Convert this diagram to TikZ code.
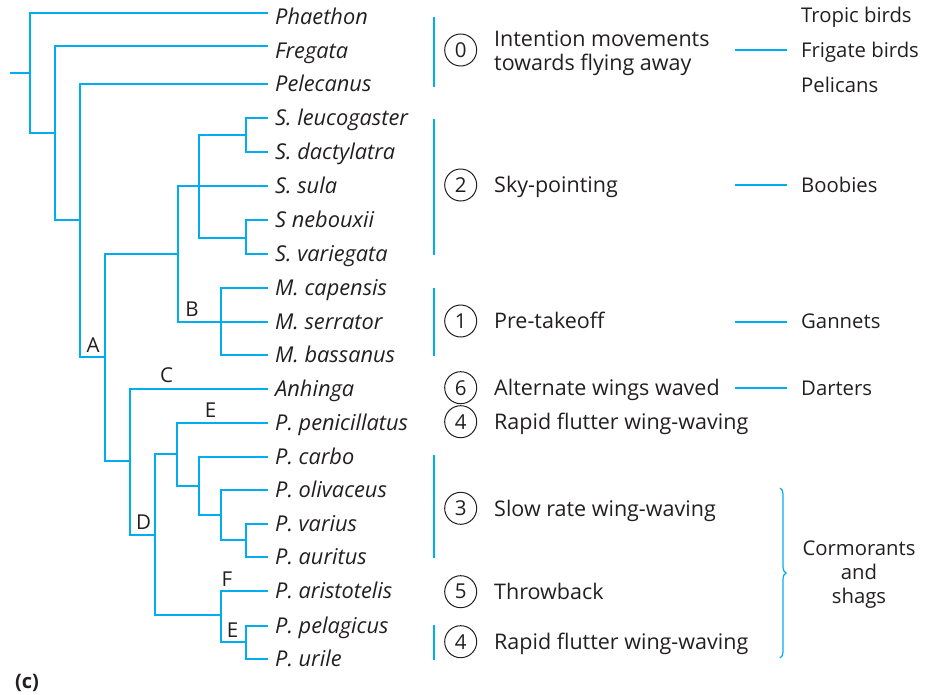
\documentclass[tikz,border=0pt]{standalone}
\usepackage{fontspec}
\setmainfont{Open Sans}
\usetikzlibrary{decorations.pathreplacing}
\definecolor{treeblue}{RGB}{0,174,239}
\definecolor{ink}{RGB}{35,31,32}

\begin{document}
\begin{tikzpicture}[x=1pt,y=-1pt,
  branch/.style={draw=treeblue, line width=2pt},
  bar/.style={draw=treeblue, line width=1.8pt},
  taxon/.style={anchor=base west, inner sep=0pt, text=ink,
    font=\fontsize{21.8}{26}\selectfont\itshape},
  behav/.style={anchor=base west, inner sep=0pt, text=ink, align=left,
    font=\fontsize{21.5}{23.5}\selectfont},
  group/.style={anchor=base west, inner sep=0pt, text=ink,
    font=\fontsize{20.3}{24}\selectfont},
  num/.style={circle, draw=ink, line width=1pt, minimum size=32pt,
    inner sep=0pt, text=ink, font=\fontsize{20.5}{22}\selectfont},
  clade/.style={inner sep=0pt, text=ink, font=\fontsize{20.5}{22}\selectfont}
]
\useasboundingbox (0,0) rectangle (932,695);

% ---------- leaf ends of the tree ----------
\coordinate (L0)  at (268,13.3);
\coordinate (L1)  at (268,45.7);
\coordinate (L2)  at (268,84);
\coordinate (L3)  at (268,118);
\coordinate (L4)  at (268,152);
\coordinate (L5)  at (268,186);
\coordinate (L6)  at (268,220);
\coordinate (L7)  at (268,254);
\coordinate (L8)  at (268,288);
\coordinate (L9)  at (268,321.7);
\coordinate (L10) at (268,355);
\coordinate (L11) at (268,389);
\coordinate (L12) at (268,423);
\coordinate (L13) at (268,457);
\coordinate (L14) at (268,490);
\coordinate (L15) at (268,524);
\coordinate (L16) at (268,557);
\coordinate (L17) at (268,591);
\coordinate (L18) at (268,625.5);
\coordinate (L19) at (268,659.3);

% ---------- internal nodes (vertical x, attachment y) ----------
\coordinate (stub) at (10,73);
\coordinate (root) at (30,73);
\coordinate (n2)   at (55,133);
\coordinate (n3)   at (79.5,220);
\coordinate (A)    at (105,357);
\coordinate (B)    at (178,254.3);
\coordinate (Sul)  at (199,186);
\coordinate (Sul1) at (246,135);
\coordinate (Sul2) at (246,238);
\coordinate (Mor)  at (220.7,321.7);
\coordinate (C)    at (130,460.7);
\coordinate (D)    at (155,535);
\coordinate (E1)   at (177,454);
\coordinate (P1)   at (199,485.7);
\coordinate (P2)   at (220.7,515);
\coordinate (P3)   at (246,540);
\coordinate (F)    at (220.7,615);
\coordinate (E2)   at (246,642.3);

% ---------- branches ----------
\draw[branch] (stub) -- (root);
\draw[branch] (L0) -| (root) |- (n2);
\draw[branch] (L1) -| (n2) |- (n3);
\draw[branch] (L2) -| (n3) |- (A);
\draw[branch] (B) -| (A) |- (C);
\draw[branch] (Sul) -| (B) |- (Mor);
\draw[branch] (Sul1) -| (Sul) |- (Sul2);
\draw[branch] (Sul) -- (L5);
\draw[branch] (L3) -| (Sul1) |- (L4);
\draw[branch] (L6) -| (Sul2) |- (L7);
\draw[branch] (L8) -| (Mor) |- (L10);
\draw[branch] (Mor) -- (L9);
\draw[branch] (L11) -| (C) |- (D);
\draw[branch] (E1) -| (D) |- (F);
\draw[branch] (L12) -| (E1) |- (P1);
\draw[branch] (L13) -| (P1) |- (P2);
\draw[branch] (L14) -| (P2) |- (P3);
\draw[branch] (L15) -| (P3) |- (L16);
\draw[branch] (L17) -| (F) |- (E2);
\draw[branch] (L18) -| (E2) |- (L19);

% ---------- clade letters ----------
\node[clade] (labA)  at (93,345)    {A};
\node[clade] (labB)  at (192,309)   {B};
\node[clade] (labC)  at (166.5,375) {C};
\node[clade] (labD)  at (143.5,522.5) {D};
\node[clade] (labE1) at (210.5,410) {E};
\node[clade] (labF)  at (227,579)   {F};
\node[clade] (labE2) at (232.5,630.5) {E};

% ---------- taxon names (baselines) ----------
\node[taxon] (t0)  at (275,24.6)  {Phaethon};
\node[taxon] (t1)  at (275,58.6)  {Fregata};
\node[taxon] (t2)  at (275,91.6)  {Pelecanus};
\node[taxon] (t3)  at (275,125.6) {S. leucogaster};
\node[taxon] (t4)  at (275,159.8) {S. dactylatra};
\node[taxon] (t5)  at (275,193.3) {S. sula};
\node[taxon] (t6)  at (275,227.5) {S nebouxii};
\node[taxon] (t7)  at (275,261.5) {S. variegata};
\node[taxon] (t8)  at (275,295.5) {M. capensis};
\node[taxon] (t9)  at (275,329.3) {M. serrator};
\node[taxon] (t10) at (275,362.8) {M. bassanus};
\node[taxon] (t11) at (275,396.5) {Anhinga};
\node[taxon] (t12) at (275,430.5) {P. penicillatus};
\node[taxon] (t13) at (275,464.5) {P. carbo};
\node[taxon] (t14) at (275,497.8) {P. olivaceus};
\node[taxon] (t15) at (275,531.8) {P. varius};
\node[taxon] (t16) at (275,564.5) {P. auritus};
\node[taxon] (t17) at (275,598.5) {P. aristotelis};
\node[taxon] (t18) at (275,633)   {P. pelagicus};
\node[taxon] (t19) at (275,666.8) {P. urile};

% ---------- bars grouping taxa by display ----------
\coordinate (b0t) at (434.3,16.7);  \coordinate (b0b) at (434.3,86.7);
\coordinate (b2t) at (434.3,119);   \coordinate (b2b) at (434.3,255);
\coordinate (b1t) at (434.3,288.3); \coordinate (b1b) at (434.3,356);
\coordinate (b3t) at (434.3,455);   \coordinate (b3b) at (434.3,558.3);
\coordinate (b4t) at (434.3,625);   \coordinate (b4b) at (434.3,660);
\draw[bar] (b0t) -- (b0b);
\draw[bar] (b2t) -- (b2b);
\draw[bar] (b1t) -- (b1b);
\draw[bar] (b3t) -- (b3b);
\draw[bar] (b4t) -- (b4b);

% ---------- display numbers and names ----------
\node[num] (c0)  at (460.7,50)    {0};
\node[num] (c2)  at (460.7,185)   {2};
\node[num] (c1)  at (460.7,321)   {1};
\node[num] (c6)  at (460.7,387.7) {6};
\node[num] (c4a) at (460.7,421.7) {4};
\node[num] (c3)  at (460.7,508.3) {3};
\node[num] (c5)  at (460.7,591.7) {5};
\node[num] (c4b) at (460.7,641.7) {4};

% a two-line node sits on the baseline of its last line
\node[behav] (d0)  at (494,70.2)  {Intention movements\\towards flying away};
\node[behav] (d2)  at (494,192.7) {Sky-pointing};
\node[behav] (d1)  at (494,328.7) {Pre-takeoff};
\node[behav] (d6)  at (494,395.4) {Alternate wings waved};
\node[behav] (d4a) at (494,429.4) {Rapid flutter wing-waving};
\node[behav] (d3)  at (494,516)   {Slow rate wing-waving};
\node[behav] (d5)  at (494,599.4) {Throwback};
\node[behav] (d4b) at (494,649.4) {Rapid flutter wing-waving};

% ---------- common names (baselines) ----------
\node[group] (g0) at (801,23)    {Tropic birds};
\node[group] (g1) at (801,58)    {Frigate birds};
\node[group] (g2) at (801,92.3)  {Pelicans};
\node[group] (g3) at (801,192.8) {Boobies};
\node[group] (g4) at (801,328.8) {Gannets};
\node[group] (g5) at (801,395.3) {Darters};
\node[group, anchor=base, align=center] (g6) at (859,603)
  {Cormorants\\and\\shags};

% ---------- links from displays to common names ----------
\coordinate (k0a) at (735,50);    \coordinate (k0b) at (786.7,50);
\coordinate (k1a) at (735,185.5); \coordinate (k1b) at (786.7,185.5);
\coordinate (k2a) at (735,321.5); \coordinate (k2b) at (786.7,321.5);
\coordinate (k3a) at (735,388);   \coordinate (k3b) at (786.7,388);
\draw[branch] (k0a) -- (k0b);
\draw[branch] (k1a) -- (k1b);
\draw[branch] (k2a) -- (k2b);
\draw[branch] (k3a) -- (k3b);

% brace over the cormorant displays
\coordinate (brt) at (780,488);
\coordinate (brb) at (780,658);
\draw[draw=treeblue, line width=1.2pt, decorate,
  decoration={brace, amplitude=6pt}] (brt) -- (brb);

% panel letter
\node[inner sep=0pt, text=ink, font=\fontsize{20}{22}\selectfont\bfseries]
  (panel) at (27,683) {(c)};
\end{tikzpicture}
\end{document}
